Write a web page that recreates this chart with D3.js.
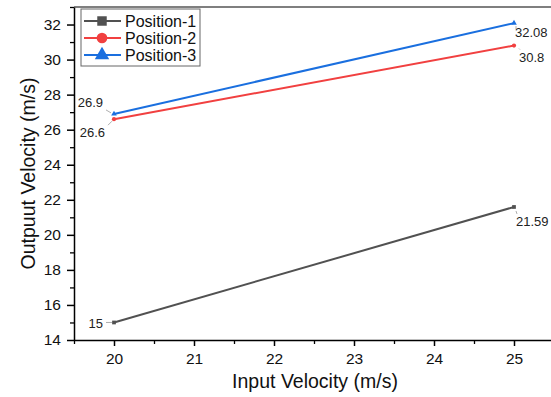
<!DOCTYPE html>
<html>
<head>
<meta charset="utf-8">
<script src="https://cdn.jsdelivr.net/npm/d3@7"></script>
<style>
  body { margin: 0; background: #fff; }
  svg { display: block; font-family: "Liberation Sans", Arial, sans-serif; }
</style>
</head>
<body>
<div id="chart"></div>
<script>
// data
const inputVelocity = [20, 25];
const seriesNames = ['Position-1', 'Position-2', 'Position-3'];
const position1 = [15, 21.59];
const position2 = [26.6, 30.8];
const position3 = [26.9, 32.08];
const xTicks = [20, 21, 22, 23, 24, 25];
const yTicks = [14, 16, 18, 20, 22, 24, 26, 28, 30, 32];

const colors = ['#515151', '#f14040', '#1a6fdf'];
const markers = [d3.symbolSquare, d3.symbolCircle, d3.symbolTriangle];

// label offsets from the point (text anchor position) + leader line end offsets
const labelPos = [
  [{ dx: -11, dy: 1, anchor: 'end', lead: [[-2, 0], [-8, 0]] },
   { dx: 2, dy: 15, anchor: 'start', lead: [[2, 4], [3, 7]] }],
  [{ dx: -9, dy: 13.5, anchor: 'end', lead: [[-2, 2], [-6, 6]] },
   { dx: 5, dy: 11.5, anchor: 'start', lead: [[5, 3], [6, 4]] }],
  [{ dx: -11, dy: -11, anchor: 'end', lead: [[-3, -1], [-8, -4]] },
   { dx: 1, dy: 9, anchor: 'start', lead: [[2, 3], [2, 6]] }]
];

const width = 551, height = 397;
const margin = { top: 7, right: -3, bottom: 57, left: 74 };

const svg = d3.select('#chart').append('svg')
  .attr('width', width)
  .attr('height', height);

const x = d3.scaleLinear().domain([19.5, 25.5]).range([margin.left, width - margin.right]);
const y = d3.scaleLinear().domain([14, 33]).range([height - margin.bottom, margin.top]);

const x0 = margin.left, x1 = width - margin.right;
const y0 = height - margin.bottom, y1 = margin.top;
const font = '"Liberation Sans", Arial, sans-serif';

// frame
svg.append('line').attr('x1', x0).attr('x2', x1).attr('y1', y1).attr('y2', y1)
  .attr('stroke', '#555').attr('stroke-width', 1.5);
svg.append('line').attr('x1', x1).attr('x2', x1).attr('y1', y1).attr('y2', y0)
  .attr('stroke', '#555').attr('stroke-width', 1.5);

// minor ticks
const xMinor = d3.range(19.5, 25.51, 0.5).filter(v => !Number.isInteger(v));
const yMinor = d3.range(15, 33.01, 2);

svg.append('g')
  .attr('transform', `translate(0,${y0})`)
  .call(d3.axisBottom(x).tickValues(xMinor).tickSize(4).tickFormat(''))
  .call(g => g.select('.domain').remove())
  .selectAll('line').attr('stroke', '#000').attr('stroke-width', 1.3);

svg.append('g')
  .attr('transform', `translate(${x0},0)`)
  .call(d3.axisLeft(y).tickValues(yMinor).tickSize(4).tickFormat(''))
  .call(g => g.select('.domain').remove())
  .selectAll('line').attr('stroke', '#000').attr('stroke-width', 1.3);

// major axes
const xAxis = svg.append('g')
  .attr('transform', `translate(0,${y0})`)
  .call(d3.axisBottom(x).tickValues(xTicks).tickFormat(d3.format('d'))
    .tickSize(6).tickSizeOuter(0).tickPadding(7));
xAxis.select('.domain').attr('stroke', '#000').attr('stroke-width', 1.5);
xAxis.selectAll('line').attr('stroke', '#000').attr('stroke-width', 1.5);
xAxis.selectAll('text').attr('font-size', 15.5).attr('fill', '#111').style('font-family', font);

const yAxis = svg.append('g')
  .attr('transform', `translate(${x0},0)`)
  .call(d3.axisLeft(y).tickValues(yTicks).tickFormat(d3.format('d'))
    .tickSize(7).tickSizeOuter(0).tickPadding(6));
yAxis.select('.domain').attr('stroke', '#000').attr('stroke-width', 1.5);
yAxis.selectAll('line').attr('stroke', '#000').attr('stroke-width', 1.5);
yAxis.selectAll('text').attr('font-size', 15.5).attr('fill', '#111').style('font-family', font);

// axis titles
svg.append('text')
  .attr('x', 315).attr('y', 388)
  .attr('text-anchor', 'middle')
  .attr('font-size', 19.5).attr('fill', '#111')
  .text('Input Velocity (m/s)');

svg.append('text')
  .attr('transform', `translate(35,${(y0 + y1) / 2}) rotate(-90)`)
  .attr('text-anchor', 'middle')
  .attr('font-size', 19.5).attr('fill', '#111')
  .text('Outpuut Velocity (m/s)');

// series
const allSeries = [position1, position2, position3];
const line = d3.line().x(d => x(d[0])).y(d => y(d[1]));

allSeries.forEach((vals, i) => {
  const pts = inputVelocity.map((v, j) => [v, vals[j]]);
  svg.append('path')
    .datum(pts)
    .attr('d', line)
    .attr('fill', 'none')
    .attr('stroke', colors[i])
    .attr('stroke-width', 2);

  svg.selectAll(null)
    .data(pts)
    .enter()
    .append('path')
    .attr('transform', d => `translate(${x(d[0])},${y(d[1])})`)
    .attr('d', d3.symbol().type(markers[i]).size(14))
    .attr('fill', colors[i]);

  // data labels with leader lines
  pts.forEach((d, j) => {
    const p = labelPos[i][j];
    const px = x(d[0]), py = y(d[1]);
    svg.append('line')
      .attr('x1', px + p.lead[0][0]).attr('y1', py + p.lead[0][1])
      .attr('x2', px + p.lead[1][0]).attr('y2', py + p.lead[1][1])
      .attr('stroke', '#999').attr('stroke-width', 0.8);
    svg.append('text')
      .attr('x', px + p.dx)
      .attr('y', py + p.dy + 4.5)
      .attr('text-anchor', p.anchor)
      .attr('font-size', 13)
      .attr('fill', '#222')
      .text(d[1]);
  });
});

// legend
const legend = svg.append('g').attr('transform', 'translate(81,9)');
legend.append('rect')
  .attr('width', 119).attr('height', 57)
  .attr('fill', '#fff').attr('stroke', '#666').attr('stroke-width', 1);

seriesNames.forEach((name, i) => {
  const g = legend.append('g').attr('transform', `translate(0,${12 + i * 17})`);
  g.append('line').attr('x1', 3).attr('x2', 40).attr('y1', 0).attr('y2', 0)
    .attr('stroke', colors[i]).attr('stroke-width', 2);
  g.append('path')
    .attr('transform', 'translate(21,0)')
    .attr('d', d3.symbol().type(markers[i]).size(90))
    .attr('fill', colors[i]);
  g.append('text')
    .attr('x', 44).attr('y', 5.5)
    .attr('font-size', 16).attr('fill', '#111')
    .text(name);
});
</script>
</body>
</html>
